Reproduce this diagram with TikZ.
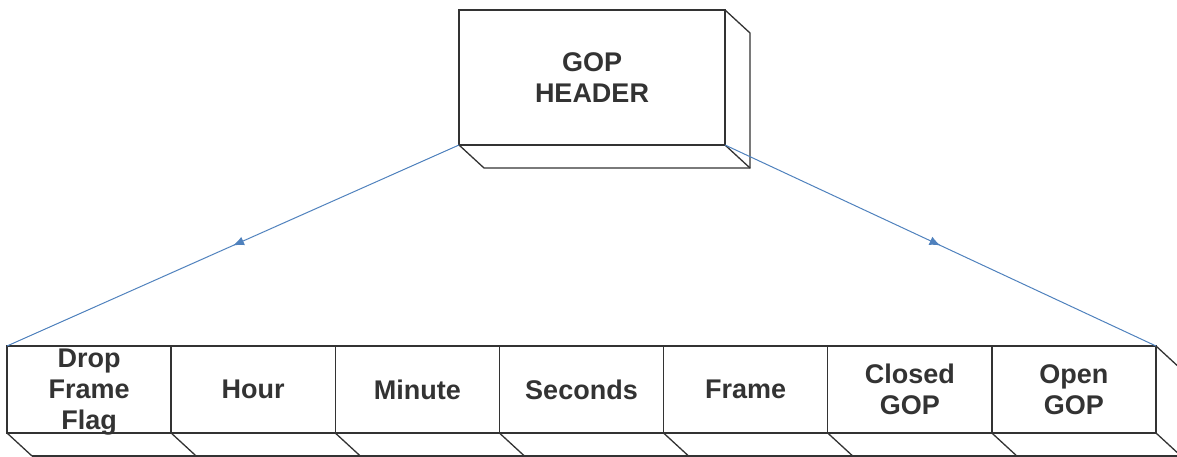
\documentclass[tikz,border=0pt]{standalone}
\usepackage{fontspec}
\setmainfont{Liberation Sans}
\usetikzlibrary{arrows.meta,decorations.markings}
\definecolor{linkblue}{RGB}{79,129,189}
\begin{document}
\begin{tikzpicture}[x=1pt,y=-1pt,
						every node/.style={align=center,inner sep=0pt,outer sep=0pt,
						  font=\bfseries\fontsize{27}{31}\selectfont}]
						\tikzstyle{boxline}=[line width=1.3pt,black!80];
						\tikzstyle{field}=[draw,boxline,minimum width=164.14pt,minimum height=87pt];
						\tikzstyle{link}=[linkblue,line width=1pt,postaction={decorate},
						  decoration={markings,mark=at position 0.5 with {\arrow{Latex[length=11pt,width=9pt]}}}];
						\clip (0,0) rectangle (1177,457);
						% header block
						\node[field,minimum width=266pt,minimum height=135pt](hdr) at (592,77.5) {GOP\\HEADER};
						\draw[boxline] (hdr.north east) -- ++(25,23) -- ++(0,135) -- ++(-266,0) -- (hdr.south west);
						\draw[boxline] (hdr.south east) -- ++(25,23);
						% time code fields
						\node[field,text depth=0pt](drop) at (89.07,389.5) {Drop\\Frame\\Flag};
						\node[field](hour) at (253.21,389.5) {Hour};
						\node[field](minute) at (417.35,389.5) {Minute};
						\node[field](seconds) at (581.49,389.5) {Seconds};
						\node[field](frame) at (745.63,389.5) {Frame};
						\node[field](closed) at (909.77,389.5) {Closed\\GOP};
						\node[field](open) at (1073.91,389.5) {Open\\GOP};
						\foreach \f in {drop,hour,minute,seconds,frame,closed,open}
						  \draw[boxline] (\f.south west) -- ++(25,23);
						\draw[boxline] (open.south east) -- ++(25,23);
						\draw[boxline] (open.north east) -- ++(25,23) -- ++(0,87);
						\draw[boxline] ([shift={(25,23)}]drop.south west) -- ([shift={(25,23)}]open.south east);
						% links
						\draw[link] (hdr.south west) -- (drop.north west);
						\draw[link] (hdr.south east) -- (open.north east);
					\end{tikzpicture}
\end{document}
